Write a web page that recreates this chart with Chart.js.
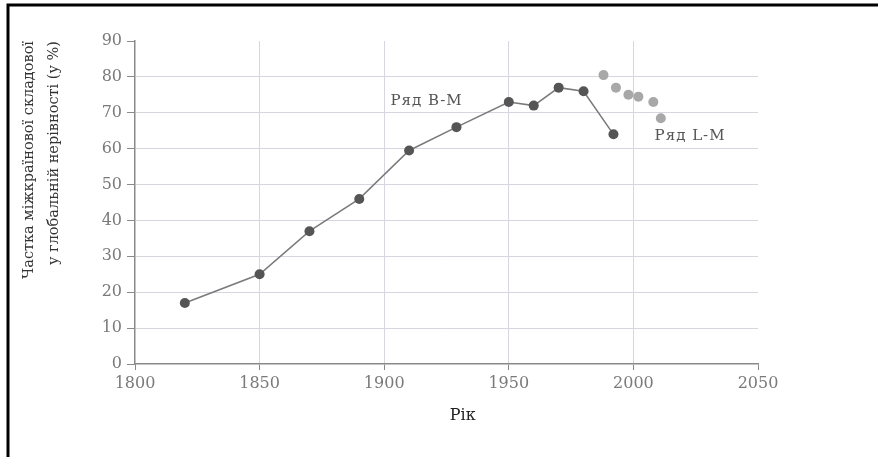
<!DOCTYPE html>
<html>
<head>
<meta charset="utf-8">
<script src="https://cdn.jsdelivr.net/npm/chart.js@4.4.0/dist/chart.umd.min.js"></script>
<style>
html,body{margin:0;padding:0;background:#fff;}
#wrap{position:absolute;left:0;top:0;width:878px;height:457px;}
</style>
</head>
<body>
<div id="wrap"><canvas id="c" width="878" height="457"></canvas></div>
<script>
// Data
const yearsBM = [1820, 1850, 1870, 1890, 1910, 1929, 1950, 1960, 1970, 1980, 1992];
const valuesBM = [17, 25, 37, 46, 59.5, 66, 73, 72, 77, 76, 64];
const yearsLM = [1988, 1993, 1998, 2002, 2008, 2011];
const valuesLM = [80.5, 77, 75, 74.5, 73, 68.5];
const xTicks = [1800, 1850, 1900, 1950, 2000, 2050];
const yTicks = [0, 10, 20, 30, 40, 50, 60, 70, 80, 90];
const seriesNames = ['Ряд B-M', 'Ряд L-M'];
const xTitle = 'Рік';
const yTitle = ['Частка міжкраїнової складової', 'у глобальній нерівності (у %)'];

const SERIF = '"DejaVu Serif", "Liberation Serif", serif';

const toPts = (xs, ys) => xs.map((x, i) => ({x: x, y: ys[i]}));

const frame = {
  id: 'frame',
  afterDraw(chart) {
    const ctx = chart.ctx;
    ctx.save();
    ctx.strokeStyle = '#000';
    ctx.lineWidth = 3;
    ctx.beginPath();
    ctx.moveTo(8, 457);
    ctx.lineTo(8, 5);
    ctx.lineTo(878, 5);
    ctx.stroke();
    ctx.restore();
  }
};

const textLabels = {
  id: 'textLabels',
  afterDraw(chart, args, opts) {
    const ctx = chart.ctx;
    const xs = chart.scales.x, ys = chart.scales.y;
    ctx.save();
    ctx.textBaseline = 'middle';
    opts.items.forEach(it => {
      ctx.font = it.font;
      ctx.fillStyle = it.color;
      if ('letterSpacing' in ctx) ctx.letterSpacing = it.spacing || '0px';
      ctx.textAlign = it.align;
      const px = xs.getPixelForValue(it.x);
      const py = (it.dy !== undefined) ? chart.chartArea.bottom + it.dy : ys.getPixelForValue(it.y);
      ctx.fillText(it.text, px, py);
    });
    ctx.restore();
  }
};

new Chart(document.getElementById('c'), {
  type: 'scatter',
  data: {
    datasets: [
      {
        label: seriesNames[0],
        data: toPts(yearsBM, valuesBM),
        showLine: true,
        borderColor: '#7a7a7a',
        borderWidth: 1.5,
        backgroundColor: '#555',
        pointBackgroundColor: '#555',
        pointBorderColor: '#555',
        pointRadius: 5,
        pointBorderWidth: 0
      },
      {
        label: seriesNames[1],
        data: toPts(yearsLM, valuesLM),
        showLine: false,
        backgroundColor: '#a8a8a8',
        pointBackgroundColor: '#a8a8a8',
        pointBorderColor: '#a8a8a8',
        pointRadius: 5,
        pointBorderWidth: 0
      }
    ]
  },
  options: {
    responsive: false,
    animation: false,
    events: [],
    layout: {padding: {left: 10, top: 41, right: 120, bottom: 0}},
    plugins: {
      legend: {display: false},
      tooltip: {enabled: false},
      textLabels: {
        items: [
          {text: seriesNames[0], x: 1931.5, y: 73.3, align: 'right', font: '15px ' + SERIF, color: '#555', spacing: '1px'},
          {text: seriesNames[1], x: 2008.5, y: 63.5, align: 'left', font: '15px ' + SERIF, color: '#555', spacing: '1px'},
          {text: xTitle, x: 1931.5, dy: 52, align: 'center', font: '16px ' + SERIF, color: '#222'}
        ]
      }
    },
    scales: {
      x: {
        type: 'linear',
        min: 1800, max: 2050,
        afterBuildTicks(s) { s.ticks = xTicks.map(v => ({value: v})); },
        afterFit(s) { s.height = 457 - 364; },
        ticks: {
          color: '#7a7a7a',
          font: {family: SERIF, size: 16},
          padding: 4,
          maxRotation: 0,
          callback: v => String(v)
        },
        grid: {
          color: ctx => (ctx.tick && (ctx.tick.value === 1800 || ctx.tick.value === 2050)) ? 'rgba(0,0,0,0)' : '#d6d6de',
          lineWidth: 1,
          tickLength: 6,
          tickColor: '#8a8a8a',
          drawTicks: true
        },
        border: {display: true, color: '#8a8a8a', width: 1.5}
      },
      y: {
        type: 'linear',
        min: 0, max: 90,
        afterBuildTicks(s) { s.ticks = yTicks.map(v => ({value: v})); },
        afterFit(s) { s.width = 135 - 10; },
        ticks: {
          color: '#7a7a7a',
          font: {family: SERIF, size: 16},
          padding: 5,
          callback: v => String(v)
        },
        grid: {
          color: ctx => (ctx.tick && (ctx.tick.value === 0 || ctx.tick.value === 90)) ? 'rgba(0,0,0,0)' : '#d6d6de',
          lineWidth: 1,
          tickLength: 8,
          tickColor: '#8a8a8a'
        },
        border: {display: true, color: '#8a8a8a', width: 1.5},
        title: {
          display: true,
          text: yTitle,
          align: 'end',
          color: '#333',
          font: {family: SERIF, size: 14.5, lineHeight: '25px'},
          padding: {top: 7, bottom: 0}
        }
      }
    }
  },
  plugins: [frame, textLabels]
});
</script>
</body>
</html>
